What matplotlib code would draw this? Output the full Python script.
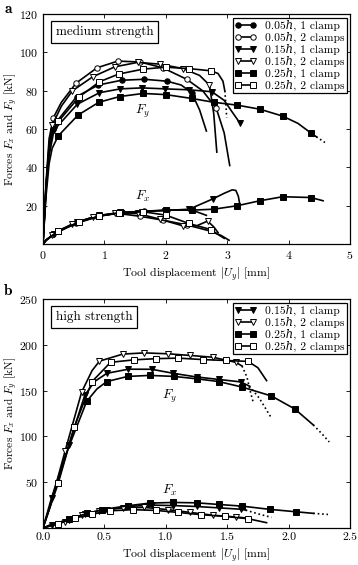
import matplotlib
matplotlib.use("Agg")
import matplotlib.pyplot as plt
from matplotlib.lines import Line2D
from matplotlib.font_manager import FontProperties

plt.rcParams['font.family'] = 'cmr10'
plt.rcParams['mathtext.fontset'] = 'cm'
plt.rcParams['axes.formatter.use_mathtext'] = True
plt.rcParams['font.size'] = 8.5

# ---- panel a: medium strength (0.05h/0.15h/0.25h, 1 or 2 clamps) ----
a_labels = ['0.05\u210e, 1 clamp', '0.05\u210e, 2 clamps', '0.15\u210e, 1 clamp',
            '0.15\u210e, 2 clamps', '0.25\u210e, 1 clamp', '0.25\u210e, 2 clamps']

a_fy_u = [
    [0, 0.05, 0.1, 0.17, 0.25, 0.55, 0.9, 1.28, 1.65, 2.02, 2.25, 2.42, 2.55, 2.66],
    [0, 0.05, 0.1, 0.17, 0.3, 0.54, 0.88, 1.22, 1.58, 1.95, 2.34, 2.6, 2.82, 2.95, 3.04],
    [0, 0.05, 0.1, 0.18, 0.56, 0.92, 1.26, 1.61, 1.99, 2.38, 2.75, 2.95, 3.1, 3.21],
    [0, 0.05, 0.1, 0.15, 0.3, 0.48, 0.81, 1.17, 1.54, 1.9, 2.28, 2.55, 2.71, 2.78, 2.83],
    [0, 0.05, 0.1, 0.15, 0.25, 0.57, 0.91, 1.25, 1.63, 2.0, 2.42, 2.78, 3.16, 3.53, 3.9, 4.15, 4.36, 4.45],
    [0, 0.05, 0.1, 0.15, 0.25, 0.59, 0.92, 1.23, 1.63, 2.0, 2.37, 2.74, 2.85, 2.93, 2.96],
]
a_fy = [
    [0, 30, 50, 60, 65, 77, 83, 85.5, 86, 85, 83, 79, 70, 59],
    [0, 32, 55, 66, 74, 84, 92, 95.5, 95, 92, 86, 80, 71, 58, 41],
    [0, 28, 46, 59.5, 73, 79, 81, 81.5, 81, 80.5, 79.5, 75, 68, 63],
    [0, 30, 52, 62, 72, 80, 87.3, 92.5, 94.8, 93.9, 91.6, 88, 83, 68, 48],
    [0, 25, 42, 50, 56.5, 67.3, 74, 77, 78.6, 78, 76, 74, 72.5, 70.4, 66.8, 63, 58, 56],
    [0, 30, 50, 58, 64, 76.8, 84.7, 88.7, 91.3, 92.3, 91.6, 90.4, 89, 85, 80],
]
a_fy_mark = [[3, 5, 6, 7, 8, 9, 11], [3, 5, 6, 7, 8, 9, 10, 12], [3, 4, 5, 6, 7, 8, 9, 10, 13],
             [3, 5, 6, 7, 8, 9, 10, 12], [4, 5, 6, 7, 8, 9, 10, 11, 12, 13, 14, 16],
             [4, 5, 6, 7, 8, 9, 10, 11]]
# dotted tails (index of series, u, F)
a_tail_idx = [4, 5]
a_tail_u = [[4.45, 4.52, 4.59], [2.96, 2.98, 2.99]]
a_tail_f = [[56, 54.5, 53], [80, 72, 66]]

a_fx_u = [
    [0, 0.05, 0.25, 0.55, 0.9, 1.28, 1.65, 2.02, 2.42, 2.66],
    [0, 0.05, 0.17, 0.54, 0.88, 1.22, 1.58, 1.95, 2.34, 2.7, 2.9, 3.03],
    [0, 0.05, 0.18, 0.56, 0.92, 1.26, 1.61, 1.99, 2.38, 2.76, 2.95, 3.08, 3.14, 3.18, 3.2],
    [0, 0.05, 0.15, 0.48, 0.81, 1.17, 1.54, 1.9, 2.28, 2.5, 2.68, 2.78, 2.85],
    [0, 0.05, 0.25, 0.57, 0.91, 1.25, 1.63, 2.0, 2.42, 2.78, 3.16, 3.53, 3.9, 4.36, 4.56],
    [0, 0.05, 0.25, 0.59, 0.92, 1.23, 1.63, 2.0, 2.37, 2.74, 2.85, 2.95],
]
a_fx = [
    [0, 2, 7, 11.5, 14.8, 16.5, 17.2, 17.7, 17.8, 15],
    [0, 2, 5, 11, 14.5, 16, 14.5, 12.5, 10, 7, 4.5, 2],
    [0, 2, 5.5, 11.5, 15, 16.5, 17, 17.5, 18.2, 23.5, 26.5, 28.3, 28, 25, 21.5],
    [0, 2, 4.5, 10.5, 14, 16, 16, 13, 9.5, 9.5, 12, 9, 6],
    [0, 2, 6.8, 11.3, 14.6, 16.3, 17, 17.7, 17.7, 18.2, 20, 22.6, 24.7, 24.3, 22.6],
    [0, 2, 6.8, 11.3, 14.6, 16.3, 16.9, 15.1, 10.8, 7.5, 5, 3],
]
a_fx_mark = [[2, 3, 4, 5, 6, 7, 8], [2, 3, 4, 5, 6, 7, 8], [2, 3, 4, 5, 6, 7, 8, 9],
             [2, 3, 4, 5, 6, 7, 8, 10], [2, 3, 4, 5, 6, 7, 8, 9, 10, 11, 12, 13],
             [2, 3, 4, 5, 6, 7, 8, 9]]

# ---- panel b: high strength ----
b_labels = ['0.15\u210e, 1 clamp', '0.15\u210e, 2 clamps', '0.25\u210e, 1 clamp', '0.25\u210e, 2 clamps']

b_fy_u = [
    [0, 0.07, 0.21, 0.34, 0.42, 0.52, 0.695, 0.885, 1.06, 1.25, 1.43, 1.61, 1.68],
    [0, 0.05, 0.18, 0.315, 0.4, 0.46, 0.65, 0.825, 1.02, 1.2, 1.38, 1.57, 1.62],
    [0, 0.07, 0.2, 0.356, 0.44, 0.52, 0.69, 0.87, 1.067, 1.25, 1.43, 1.62, 1.86, 2.05, 2.2],
    [0, 0.05, 0.125, 0.255, 0.4, 0.55, 0.74, 0.92, 1.1, 1.3, 1.49, 1.67, 1.75, 1.82],
]
b_fy = [
    [0, 33, 90.6, 145, 160, 169, 173.5, 173.4, 169, 165, 162.3, 159.6, 155],
    [0, 20, 84, 148.6, 172, 182.3, 190, 191.3, 190.3, 188.5, 186.6, 181, 177],
    [0, 28, 85, 138.4, 152, 160, 165.6, 166.7, 165.6, 163, 160, 154, 144.2, 130, 112.6],
    [0, 20, 49.2, 110.5, 160, 181, 183.7, 185, 185.6, 184, 183, 182, 175, 161],
]
b_fy_mark = [[1, 2, 3, 5, 6, 7, 8, 9, 10, 11], [2, 3, 5, 6, 7, 8, 9, 10, 11],
             [3, 5, 6, 7, 8, 9, 10, 11, 12, 13], [2, 3, 4, 5, 6, 7, 8, 9, 10, 11]]
b_tail_idx = [0, 1, 2]
b_tail_u = [[1.68, 1.76, 1.86], [1.62, 1.66, 1.69, 1.71], [2.2, 2.27, 2.33]]
b_tail_f = [[155, 142, 120], [177, 165, 148, 138], [112.6, 103, 94]]

b_fx_u = [
    [0, 0.07, 0.21, 0.34, 0.52, 0.695, 0.885, 1.06, 1.25, 1.43, 1.61, 1.65],
    [0, 0.05, 0.18, 0.315, 0.46, 0.65, 0.825, 1.02, 1.2, 1.38, 1.57, 1.65],
    [0, 0.05, 0.21, 0.356, 0.48, 0.69, 0.87, 1.06, 1.25, 1.43, 1.62, 1.85, 2.06, 2.2],
    [0, 0.05, 0.125, 0.26, 0.4, 0.545, 0.735, 0.92, 1.1, 1.29, 1.48, 1.67, 1.82],
]
b_fx = [
    [0, 3, 9, 15, 20, 23.5, 25, 24.5, 23.5, 22, 20.5, 19.5],
    [0, 2, 7, 14, 19, 22, 22.5, 20, 17, 14, 12, 11],
    [0, 3, 9.4, 15.9, 20, 24.3, 27.2, 27.9, 27.5, 25.7, 23.9, 20.3, 17.7, 16],
    [0, 2, 4.7, 10.9, 15, 18.8, 20, 19.2, 17, 14.5, 12.7, 10.1, 5.8],
]
b_fx_mark = [[1, 2, 3, 4, 5, 6, 7, 8, 9, 10], [2, 3, 4, 5, 6, 7, 8, 9, 10],
             [2, 3, 4, 5, 6, 7, 8, 9, 10, 11, 12], [2, 3, 4, 5, 6, 7, 8, 9, 10, 11]]
b_fx_tail_idx = [0, 2]
b_fx_tail_u = [[1.65, 1.75, 1.86], [2.2, 2.26, 2.32]]
b_fx_tail_f = [[19.5, 15.5, 11.6], [16, 15.4, 14.8]]

a_style = [('o', 'k'), ('o', 'w'), ('v', 'k'), ('v', 'w'), ('s', 'k'), ('s', 'w')]
b_style = [('v', 'k'), ('v', 'w'), ('s', 'k'), ('s', 'w')]


def draw_series(ax, u, f, marks, style):
    m, fc = style
    ax.plot(u, f, color='k', lw=1.2, marker=m, markevery=marks, ms=3.9,
            mfc=fc, mec='k', mew=0.7)


def style_axes(ax):
    ax.tick_params(direction='in', top=True, right=True, length=3, width=0.6,
                   labelsize=8.5, pad=3.5)
    for s in ax.spines.values():
        s.set_linewidth(0.9)
    ax.set_xlabel('Tool displacement $|U_y|$ [mm]', fontsize=8.5, labelpad=3)
    ax.set_ylabel('Forces $F_x$ and $F_y$ [kN]', fontsize=8.3)
    ax.yaxis.set_label_coords(-0.074, 0.5)


def add_legend(ax, styles, labels):
    handles = [Line2D([0], [0], color='k', lw=1.2, marker=m, ms=3.9, mfc=fc,
                      mec='k', mew=0.7) for m, fc in styles]
    prop = FontProperties(family=['cmr10', 'DejaVu Serif', 'DejaVu Sans'], size=8.3)
    leg = ax.legend(handles, labels, loc='upper right', numpoints=2, prop=prop,
                    handlelength=1.9, handletextpad=0.7, labelspacing=0.07,
                    borderpad=0.2, borderaxespad=0.3, fancybox=False, framealpha=1)
    leg.get_frame().set_edgecolor('k')
    leg.get_frame().set_linewidth(0.9)


def add_box(ax, text):
    ax.text(0.041, 0.95, text, transform=ax.transAxes, fontsize=9.5,
            va='top', ha='left',
            bbox=dict(boxstyle='square,pad=0.38', fc='w', ec='k', lw=0.9))


fig = plt.figure(figsize=(3.58, 5.65), dpi=100)
ax1 = fig.add_axes([0.120, 0.568, 0.858, 0.407])
ax2 = fig.add_axes([0.120, 0.0655, 0.858, 0.405])

# panel a
for i in range(6):
    draw_series(ax1, a_fy_u[i], a_fy[i], a_fy_mark[i], a_style[i])
    draw_series(ax1, a_fx_u[i], a_fx[i], a_fx_mark[i], a_style[i])
for j, i in enumerate(a_tail_idx):
    ax1.plot(a_tail_u[j], a_tail_f[j], color='k', lw=1.2, ls=':')
ax1.set_xlim(0, 5)
ax1.set_ylim(0, 120)
ax1.set_xticks([0, 1, 2, 3, 4, 5])
ax1.set_yticks([20, 40, 60, 80, 100, 120])
style_axes(ax1)
add_legend(ax1, a_style, a_labels)
add_box(ax1, 'medium strength')
ax1.text(1.5, 68, '$F_y$', fontsize=9.5)
ax1.text(1.5, 23, '$F_x$', fontsize=9.5)

# panel b
for i in range(4):
    draw_series(ax2, b_fy_u[i], b_fy[i], b_fy_mark[i], b_style[i])
    draw_series(ax2, b_fx_u[i], b_fx[i], b_fx_mark[i], b_style[i])
for j, i in enumerate(b_tail_idx):
    ax2.plot(b_tail_u[j], b_tail_f[j], color='k', lw=1.2, ls=':')
for j, i in enumerate(b_fx_tail_idx):
    ax2.plot(b_fx_tail_u[j], b_fx_tail_f[j], color='k', lw=1.2, ls=':')
ax2.set_xlim(0, 2.5)
ax2.set_ylim(0, 250)
ax2.set_xticks([0, 0.5, 1.0, 1.5, 2.0, 2.5])
ax2.set_xticklabels(['0.0', '0.5', '1.0', '1.5', '2.0', '2.5'])
ax2.set_yticks([50, 100, 150, 200, 250])
style_axes(ax2)
add_legend(ax2, b_style, b_labels)
add_box(ax2, 'high strength')
ax2.text(0.97, 141, '$F_y$', fontsize=9.5)
ax2.text(0.97, 37, '$F_x$', fontsize=9.5)

fig.text(0.012, 0.997, 'a', fontsize=11, family='cmb10', va='top')
fig.text(0.012, 0.497, 'b', fontsize=11, family='cmb10', va='top')

fig.savefig('out.png', dpi=100)
